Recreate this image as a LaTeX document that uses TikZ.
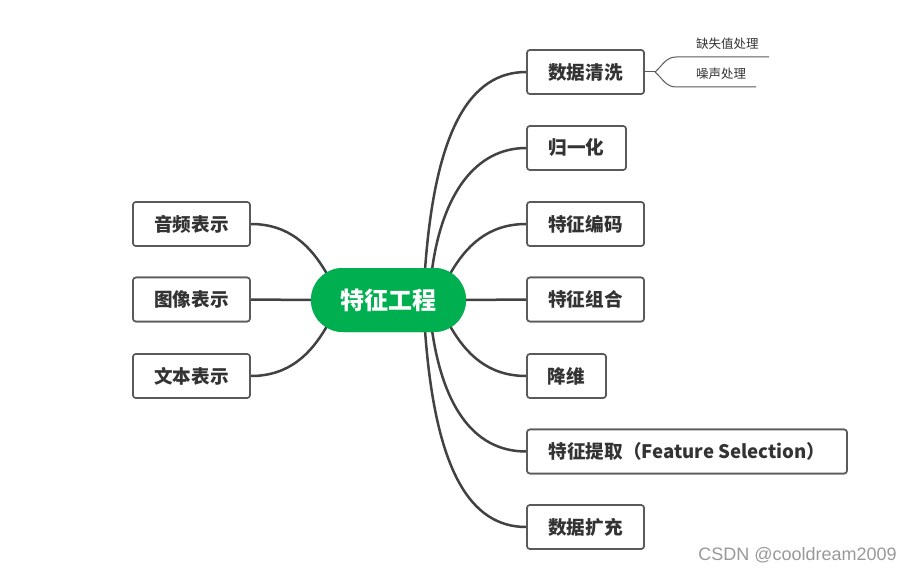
\documentclass[tikz,border=0pt]{standalone}
\usepackage{fontspec}
\setmainfont{Noto Sans CJK SC}
\newfontfamily\wmfont{Liberation Sans}
\definecolor{pillgreen}{HTML}{00B050}
\definecolor{linegray}{HTML}{424242}
\definecolor{boxgray}{HTML}{5A5A5A}
\definecolor{txtdark}{HTML}{333333}
\begin{document}
\begin{tikzpicture}[x=1pt,y=-1pt,
  topic/.style={draw=boxgray,line width=1.6pt,rounded corners=3pt,fill=white,
    minimum height=44pt,inner sep=0pt,text=txtdark,font=\fontsize{18.6}{20}\selectfont\bfseries},
  central/.style={fill=pillgreen,rounded corners=32pt,minimum width=155pt,minimum height=64pt,
    inner sep=0pt,text=white,font=\fontsize{24}{26}\selectfont\bfseries},
  conn/.style={draw=linegray,line width=2.5pt},
  subconn/.style={draw=boxgray,line width=1pt},
  sublabel/.style={inner sep=0pt,text=txtdark,font=\fontsize{12.5}{14}\selectfont}]
\useasboundingbox (0,0) rectangle (912,572);
\fill[white] (0,0) rectangle (912,572);

% start points of connectors on the pill
\coordinate (r1) at (425,270);
\coordinate (r2) at (432,270);
\coordinate (r3) at (450,274);
\coordinate (r5) at (450,326);
\coordinate (r6) at (432,330);
\coordinate (r7) at (425,330);
\coordinate (l1) at (327,274);
\coordinate (l3) at (327,326);

% node placement (named), drawn again on top after connectors
\node[central] (c) at (388.5,300) {特征工程};
\node[topic,minimum width=117pt] (n1) at (585.5,72) {数据清洗};
\node[topic,minimum width=99pt] (n2) at (576.5,148) {归一化};
\node[topic,minimum width=117pt] (n3) at (585.5,224) {特征编码};
\node[topic,minimum width=117pt] (n4) at (585.5,299.5) {特征组合};
\node[topic,minimum width=79pt] (n5) at (566.5,376) {降维};
\node[topic,minimum width=320pt] (n6) at (687,451.5) {特征提取（Feature Selection）};
\node[topic,minimum width=117pt] (n7) at (585.5,527) {数据扩充};
\node[topic,minimum width=117pt] (m1) at (191.5,224) {音频表示};
\node[topic,minimum width=117pt] (m2) at (191.5,299.5) {图像表示};
\node[topic,minimum width=117pt] (m3) at (191.5,376) {文本表示};

% connectors
\draw[conn] (r1) .. controls (435,130) and (470,72) .. (n1.west);
\draw[conn] (r2) .. controls (442,195) and (475,148) .. (n2.west);
\draw[conn] (r3) .. controls (466,246) and (488,224) .. (n3.west);
\draw[conn] (c.east) -- (n4.west);
\draw[conn] (r5) .. controls (466,354) and (488,376) .. (n5.west);
\draw[conn] (r6) .. controls (442,400) and (470,451.5) .. (n6.west);
\draw[conn] (r7) .. controls (435,470) and (470,527) .. (n7.west);
\draw[conn] (l1) .. controls (311,246) and (289,224) .. (m1.east);
\draw[conn] (c.west) -- (m2.east);
\draw[conn] (l3) .. controls (311,354) and (289,376) .. (m3.east);

% pill and boxes on top of connectors
\node[central] at (388.5,300) {特征工程};
\node[topic,minimum width=117pt] at (585.5,72) {数据清洗};
\node[topic,minimum width=99pt] at (576.5,148) {归一化};
\node[topic,minimum width=117pt] at (585.5,224) {特征编码};
\node[topic,minimum width=117pt] at (585.5,299.5) {特征组合};
\node[topic,minimum width=79pt] at (566.5,376) {降维};
\node[topic,minimum width=320pt] at (687,451.5) {特征提取（Feature Selection）};
\node[topic,minimum width=117pt] at (585.5,527) {数据扩充};
\node[topic,minimum width=117pt] at (191.5,224) {音频表示};
\node[topic,minimum width=117pt] at (191.5,299.5) {图像表示};
\node[topic,minimum width=117pt] at (191.5,376) {文本表示};

% sub-branches of 数据清洗
\coordinate (j) at (655,72);
\coordinate (s1a) at (676,57);
\coordinate (s1b) at (769,57);
\coordinate (s2a) at (676,87);
\coordinate (s2b) at (756,87);
\draw[subconn] (n1.east) -- (j);
\draw[subconn] (j) .. controls (662,66) and (666,57) .. (s1a) -- (s1b);
\draw[subconn] (j) .. controls (662,78) and (666,87) .. (s2a) -- (s2b);
\node[sublabel,anchor=west] (t1) at (696,44) {缺失值处理};
\node[sublabel,anchor=west] (t2) at (696,74) {噪声处理};

% watermark
\node[anchor=east,inner sep=0pt,text=black!40,font=\wmfont\fontsize{18}{20}\selectfont] (wm) at (897,555) {CSDN @cooldream2009};
\end{tikzpicture}
\end{document}
